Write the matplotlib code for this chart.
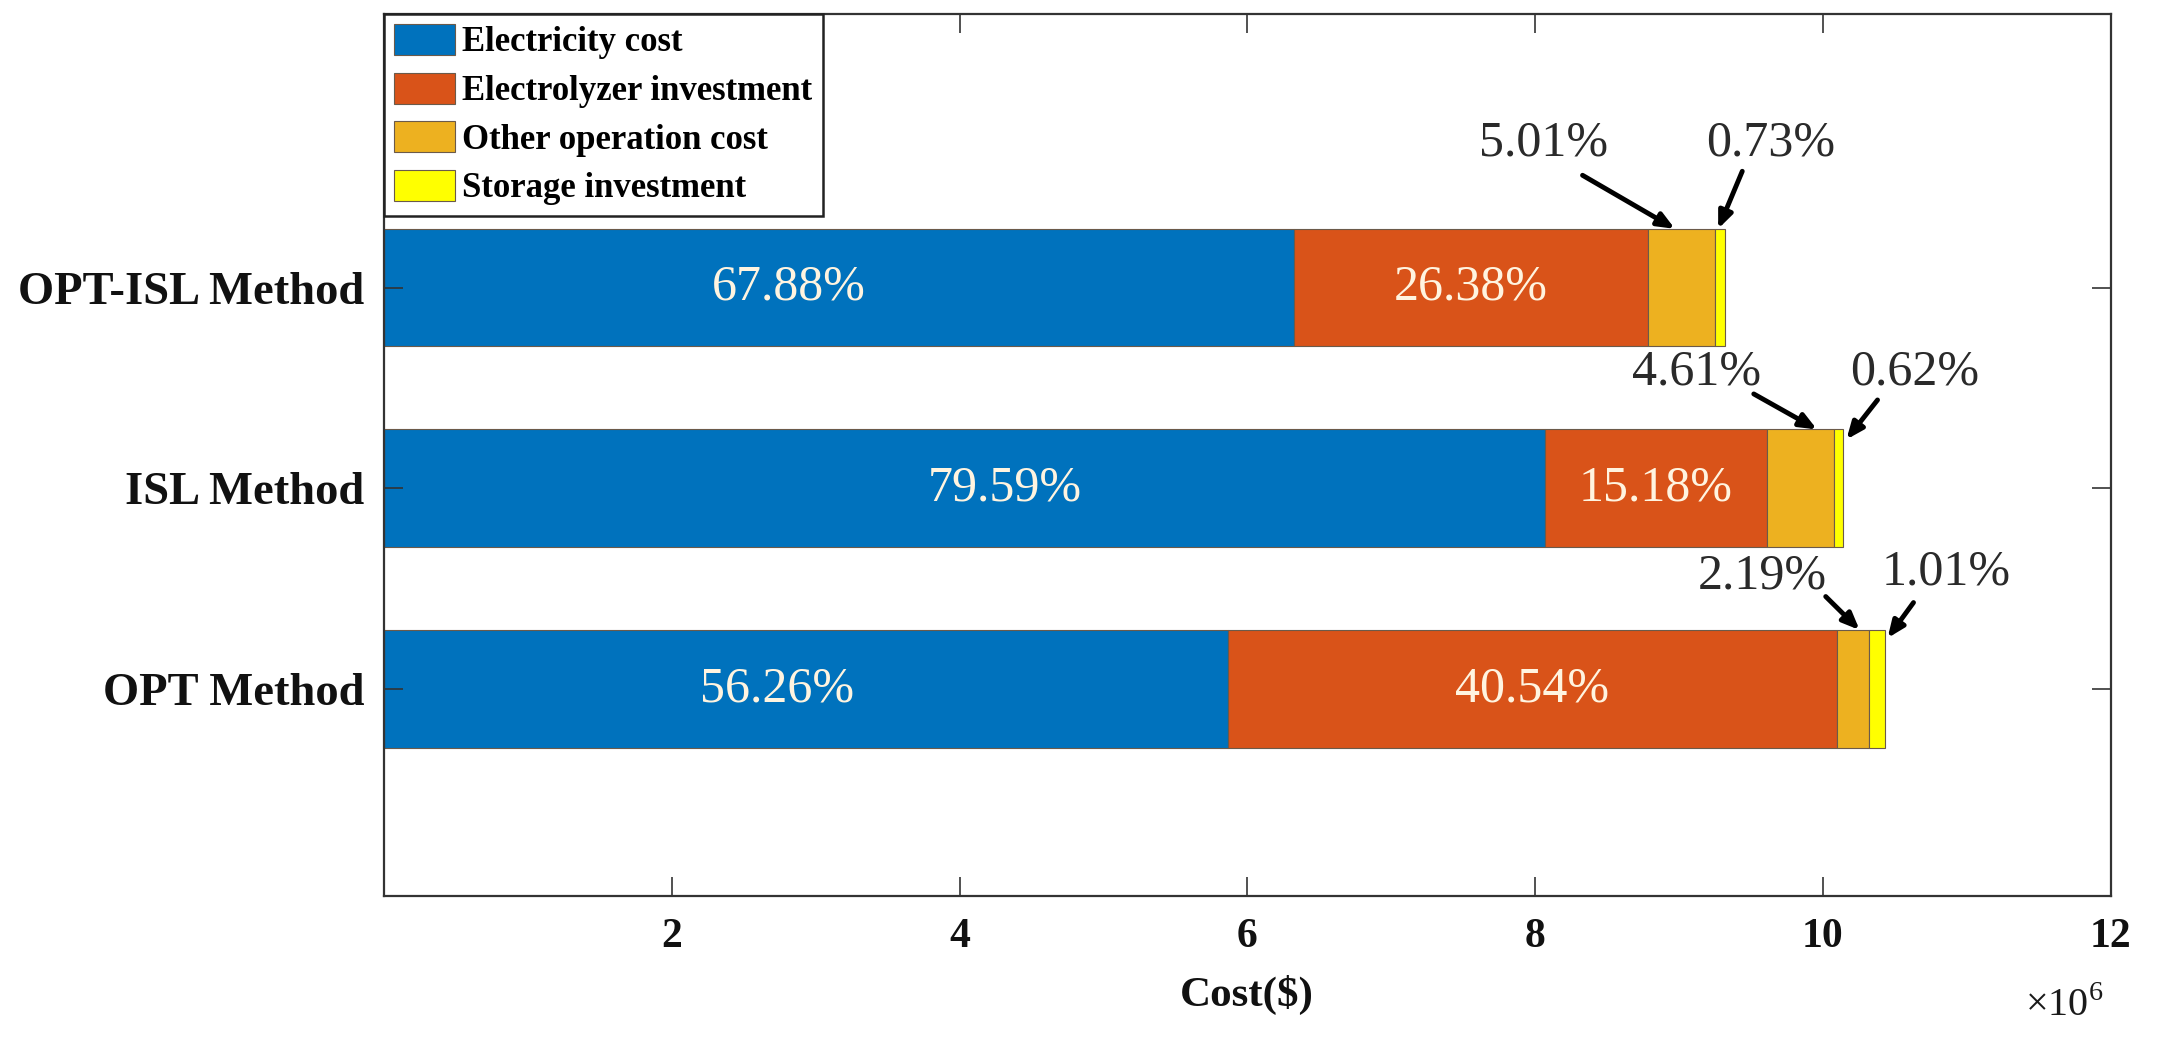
import matplotlib
matplotlib.use("Agg")
import matplotlib.pyplot as plt
import numpy as np

# ---- data ----
methods = ["OPT Method", "ISL Method", "OPT-ISL Method"]
series_names = ["Electricity cost", "Electrolyzer investment",
                "Other operation cost", "Storage investment"]
electricity = [5.868e6, 8.070e6, 6.326e6]
electrolyzer = [4.228e6, 1.539e6, 2.459e6]
other_op = [0.228e6, 0.467e6, 0.467e6]
storage = [0.105e6, 0.063e6, 0.068e6]

pct_electricity = ["56.26%", "79.59%", "67.88%"]
pct_electrolyzer = ["40.54%", "15.18%", "26.38%"]
pct_other = ["2.19%", "4.61%", "5.01%"]
pct_storage = ["1.01%", "0.62%", "0.73%"]

xticks = [2, 4, 6, 8, 10, 12]

colors = ["#0072BD", "#D95319", "#EDB120", "#FFFF00"]

plt.rcParams['font.family'] = ['Liberation Serif', 'DejaVu Serif']
plt.rcParams['mathtext.fontset'] = 'custom'
plt.rcParams['mathtext.rm'] = 'Liberation Serif'

fig = plt.figure(figsize=(21.57, 10.47), dpi=100)
ax = fig.add_axes([0.178, 0.144, 0.8005, 0.843])

y = np.arange(1, len(methods) + 1)
h = 0.586
left = np.zeros(len(methods))
for vals, c, name in zip([electricity, electrolyzer, other_op, storage], colors, series_names):
    ax.barh(y, vals, height=h, left=left, color=c, edgecolor="#6b5a4a",
            linewidth=0.8, label=name)
    left = left + np.array(vals)

ax.set_xlim(0, 12e6)
ax.set_ylim(-0.034, 4.366)
ax.set_yticks(y)
ax.set_yticklabels(methods, fontsize=33.5, fontweight='bold')
ax.set_xticks([t * 1e6 for t in xticks])
ax.set_xticklabels([str(t) for t in xticks], fontsize=30, fontweight='bold')
ax.tick_params(direction='in', length=14, width=1.2, top=True, right=True,
               colors='#333333', labelcolor='#111111')
ax.tick_params(axis='y', pad=14)
ax.tick_params(axis='x', pad=16)
for s in ax.spines.values():
    s.set_linewidth(1.6)
    s.set_color('#333333')

ax.set_xlabel("Cost($)", fontsize=31, fontweight='bold', labelpad=13, color='#111111')
ax.text(0.973, -0.125, r"$\times$10$^6$", transform=ax.transAxes, fontsize=29,
        ha='center', va='center', color='#1a1a1a')

# inside labels (electricity / electrolyzer)
elec_label_offset = [-0.2e6, 0.28e6, -0.35e6]
for i in range(len(methods)):
    cx = electricity[i] / 2 + elec_label_offset[i]
    ax.text(cx, y[i], pct_electricity[i], ha='center', va='center',
            fontsize=36, color='#FFF4E0')
    cx2 = electricity[i] + electrolyzer[i] / 2
    ax.text(cx2, y[i], pct_electrolyzer[i], ha='center', va='center',
            fontsize=36, color='#FFF4E0')

# callouts for small segments: (text_x, text_y, tail_x, tail_y, tip_frac, tip_dy)
other_callout = [(9.58e6, 1.56, 10.02e6, 1.46, 0.70, 0.0),
                 (9.12e6, 2.58, 9.52e6, 2.47, 0.75, 0.0),
                 (8.06e6, 3.72, 8.33e6, 3.56, 0.40, 0.0)]
storage_callout = [(10.86e6, 1.58, 10.63e6, 1.43, 1.2, -0.04),
                   (10.64e6, 2.58, 10.38e6, 2.44, 1.4, -0.05),
                   (9.64e6, 3.72, 9.44e6, 3.58, 0.3, 0.0)]
aprops = dict(arrowstyle='-|>,head_length=1.0,head_width=0.42',
              lw=3.5, color='black', shrinkA=0, shrinkB=0)
for i in range(len(methods)):
    start_other = electricity[i] + electrolyzer[i]
    tx, ty, ax_, ay_, frac, dy = other_callout[i]
    ax.text(tx, ty, pct_other[i], ha='center', va='center', fontsize=36, color='#2a2a2a')
    ax.annotate('', xy=(start_other + frac * other_op[i], y[i] + h / 2 + dy),
                xytext=(ax_, ay_), arrowprops=aprops)
    start_st = start_other + other_op[i]
    tx, ty, ax_, ay_, frac, dy = storage_callout[i]
    ax.text(tx, ty, pct_storage[i], ha='center', va='center', fontsize=36, color='#2a2a2a')
    ax.annotate('', xy=(start_st + frac * storage[i], y[i] + h / 2 + dy),
                xytext=(ax_, ay_), arrowprops=aprops)

leg = ax.legend(loc='upper left', bbox_to_anchor=(0, 1.0), borderaxespad=0,
                fancybox=False, framealpha=1, edgecolor='#222222',
                prop={'weight': 'bold', 'size': 25}, handlelength=1.75,
                handleheight=1.0, handletextpad=0.2, labelspacing=0.38,
                borderpad=0.3)
leg.get_frame().set_linewidth(1.8)

fig.savefig("out.png", dpi=100)
